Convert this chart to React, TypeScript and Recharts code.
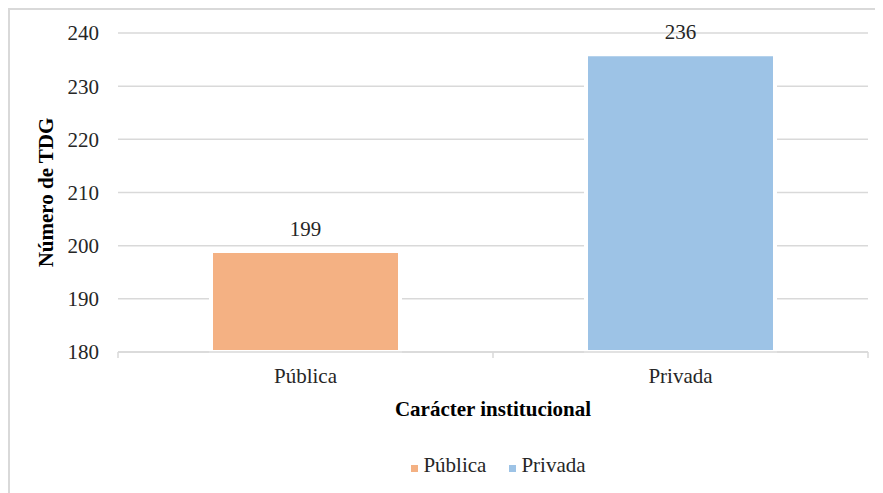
import React from 'react';
import { BarChart, Bar, XAxis, YAxis, CartesianGrid, Cell, LabelList, Legend } from 'recharts';

const categories = ['Pública', 'Privada'];
const values = [199, 236];
const colors = ['#F4B183', '#9DC3E6'];
const yTicks = [180, 190, 200, 210, 220, 230, 240];

const data = categories.map((c, i) => ({ name: c, value: values[i] }));

const FONT = '"Liberation Serif", "Times New Roman", serif';
const GRID = '#d9d9d9';
const TEXT = '#262626';

const XTick = (props: any) => {
  const { x, y, payload, index } = props;
  const half = payload && payload.offset ? payload.offset : 187;
  const axisY = y - 16;
  return (
    <g>
      <line x1={x - half} x2={x - half} y1={axisY} y2={axisY + 6} stroke={GRID} strokeWidth={1.5} />
      {index === categories.length - 1 && (
        <line x1={x + half} x2={x + half} y1={axisY} y2={axisY + 6} stroke={GRID} strokeWidth={1.5} />
      )}
      <text x={x} y={y} dy="0.71em" textAnchor="middle" fill={TEXT} fontSize={21} fontFamily={FONT}>
        {payload.value}
      </text>
    </g>
  );
};

const LegendContent = () => (
  <div
    style={{
      display: 'flex',
      justifyContent: 'center',
      alignItems: 'center',
      height: 30,
      fontFamily: FONT,
      fontSize: 21,
      color: TEXT,
      paddingLeft: 11,
    }}
  >
    {categories.map((c, i) => (
      <div key={c} style={{ display: 'flex', alignItems: 'center', marginRight: i < categories.length - 1 ? 23 : 0 }}>
        <span
          style={{ width: 7, height: 7, background: colors[i], display: 'inline-block', marginRight: 5, marginTop: 6 }}
        />
        {c}
      </div>
    ))}
  </div>
);

export default function App() {
  return (
    <div
      style={{
        width: 873,
        height: 483,
        borderTop: '2px solid #d9d9d9',
        borderLeft: '2px solid #d9d9d9',
        background: '#fff',
      }}
    >
      <BarChart width={873} height={483} data={data} margin={{ top: 23, right: 15, left: 0, bottom: 13 }}>
        <CartesianGrid vertical={false} stroke={GRID} strokeWidth={1.5} />
        <XAxis
          dataKey="name"
          height={98}
          tickLine={false}
          tickSize={5}
          tickMargin={11}
          axisLine={{ stroke: GRID, strokeWidth: 1.5 }}
          tick={<XTick />}
          label={{
            value: 'Carácter institucional',
            position: 'insideTop',
            offset: 49,
            style: { fontWeight: 'bold', fontSize: 21, fontFamily: FONT, fill: '#000' },
          }}
        />
        <YAxis
          width={108}
          domain={[180, 240]}
          ticks={yTicks}
          axisLine={false}
          tickLine={false}
          tickSize={0}
          tickMargin={19}
          tick={{ fontSize: 21, fill: TEXT, fontFamily: FONT }}
          label={{
            value: 'Número de TDG',
            angle: -90,
            position: 'insideLeft',
            offset: 36,
            style: { textAnchor: 'middle', fontWeight: 'bold', fontSize: 21, fontFamily: FONT, fill: '#000' },
          }}
        />
        <Legend
          verticalAlign="bottom"
          content={<LegendContent />}
          wrapperStyle={{ left: 108, width: 750 }}
        />
        <Bar dataKey="value" barSize={189} stroke="#fff" strokeWidth={4} isAnimationActive={false}>
          {data.map((d, i) => (
            <Cell key={d.name} fill={colors[i]} />
          ))}
          <LabelList
            dataKey="value"
            position="top"
            offset={15}
            fill={TEXT}
            stroke="none"
            fontSize={21}
            fontFamily={FONT}
          />
        </Bar>
      </BarChart>
    </div>
  );
}
